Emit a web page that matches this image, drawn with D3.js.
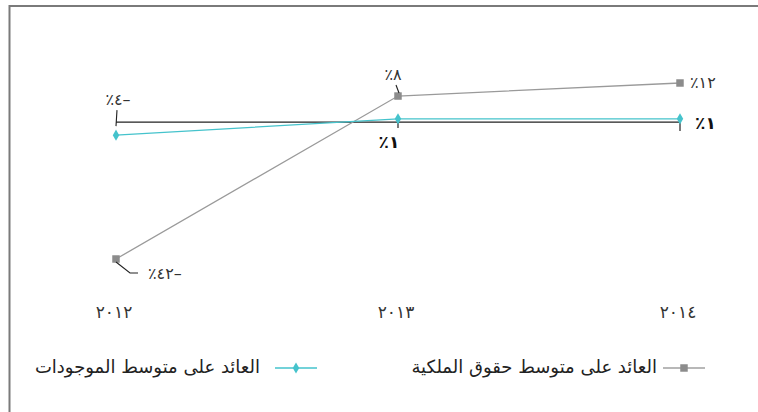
<!DOCTYPE html>
<html>
<head>
<meta charset="utf-8">
<script src="https://cdn.jsdelivr.net/npm/d3@7"></script>
<style>
  body { margin: 0; background: #fff; }
  svg { display: block; font-family: "DejaVu Sans", "Noto Sans", sans-serif; }
</style>
</head>
<body>
<div id="chart"></div>
<script>
// chart data
var years = [2012, 2013, 2014];
var yearLabels = ["٢٠١٢", "٢٠١٣", "٢٠١٤"];
var equityValues = [-42, 8, 12];
var assetsValues = [-4, 1, 1];
var seriesNames = ["العائد على متوسط حقوق الملكية", "العائد على متوسط الموجودات"];

var width = 758, height = 412;
var grey = "#8c8c8c", teal = "#45c3cc";

var svg = d3.select("#chart").append("svg")
    .attr("width", width)
    .attr("height", height);

// frame (top + left edges only)
svg.append("path")
    .attr("d", "M9.5,412 V6 H758")
    .attr("fill", "none")
    .attr("stroke", "#7a7a7a")
    .attr("stroke-width", 2);

var x = d3.scalePoint().domain(years).range([116, 680]);
var y = d3.scaleLinear().domain([-42, 12]).range([259, 83]);

// arabic-indic digits, laid out visually: ٪ digits minus
var digits = "٠١٢٣٤٥٦٧٨٩";
function fmt(v) {
  var s = String(Math.abs(v)).replace(/\d/g, function(c) { return digits[+c]; });
  return "٪" + s + (v < 0 ? "–" : "");
}

// zero line
svg.append("line")
    .attr("x1", x(2012)).attr("x2", x(2014))
    .attr("y1", y(0)).attr("y2", y(0))
    .attr("stroke", "#222").attr("stroke-width", 1.2);

svg.selectAll("line.tick")
    .data(years.slice(1))
  .enter().append("line")
    .attr("class", "tick")
    .attr("x1", function(d) { return x(d); }).attr("x2", function(d) { return x(d); })
    .attr("y1", y(0)).attr("y2", function(d, i) { return y(0) + (i ? 9 : 6); })
    .attr("stroke", "#222").attr("stroke-width", 1.2);

// x labels
svg.selectAll("text.year")
    .data(years)
  .enter().append("text")
    .attr("class", "year")
    .attr("x", function(d) { return x(d) - 2; })
    .attr("y", 318)
    .attr("text-anchor", "middle")
    .attr("font-size", 17)
    .attr("fill", "#333")
    .text(function(d, i) { return yearLabels[i]; });

var line = d3.line()
    .x(function(d, i) { return x(years[i]); })
    .y(function(d) { return y(d); });

// equity series
svg.append("path")
    .datum(equityValues)
    .attr("d", line)
    .attr("fill", "none")
    .attr("stroke", "#9a9a9a")
    .attr("stroke-width", 1.3);

// assets series
svg.append("path")
    .datum(assetsValues)
    .attr("d", line)
    .attr("fill", "none")
    .attr("stroke", teal)
    .attr("stroke-width", 1.3);

var square = d3.symbol().type(d3.symbolSquare).size(56);
var diamond = d3.symbol().type(d3.symbolDiamond).size(36);

svg.selectAll("path.sq")
    .data(equityValues)
  .enter().append("path")
    .attr("class", "sq")
    .attr("d", square)
    .attr("transform", function(d, i) { return "translate(" + x(years[i]) + "," + y(d) + ")"; })
    .attr("fill", grey);

svg.selectAll("path.dm")
    .data(assetsValues)
  .enter().append("path")
    .attr("class", "dm")
    .attr("d", diamond)
    .attr("transform", function(d, i) { return "translate(" + x(years[i]) + "," + y(d) + ")"; })
    .attr("fill", teal);

// label placement: offset of the text and its leader line, relative to the point
var equityPlace = [
  { dx: 32, dy: 20, anchor: "start", lead: [[0, 3], [14, 14], [22, 14]] },
  { dx: -5, dy: -16, anchor: "middle", lead: [[-2, -11], [1, -3]] },
  { dx: 10, dy: 5, anchor: "start", lead: null }
];
var assetsPlace = [
  { dx: 2, dy: -30, anchor: "middle", lead: [[1, -25], [0, -9]] },
  { dx: -9, dy: 29, anchor: "middle", lead: null, bold: true },
  { dx: 15, dy: 10, anchor: "start", lead: null, bold: true }
];

function labels(values, place) {
  values.forEach(function(v, i) {
    var p = place[i], px = x(years[i]), py = y(v);
    if (p.lead) {
      svg.append("path")
          .attr("d", d3.line()(p.lead.map(function(q) { return [px + q[0], py + q[1]]; })))
          .attr("fill", "none")
          .attr("stroke", "#222")
          .attr("stroke-width", 1.1);
    }
    svg.append("text")
        .attr("x", px + p.dx)
        .attr("y", py + p.dy)
        .attr("text-anchor", p.anchor)
        .attr("font-size", p.bold ? 17 : 16)
        .attr("font-weight", p.bold ? "bold" : null)
        .attr("fill", p.bold ? "#111" : "#333")
        .style("direction", "ltr")
        .style("unicode-bidi", "bidi-override")
        .text(fmt(v));
  });
}
labels(equityValues, equityPlace);
labels(assetsValues, assetsPlace);

// legend
var legend = [
  { name: seriesNames[0], x: 663, gap: 6, color: "#a0a0a0", mark: square, fill: grey },
  { name: seriesNames[1], x: 275, gap: 15, color: teal, mark: diamond, fill: teal }
];
var lg = svg.selectAll("g.legend")
    .data(legend)
  .enter().append("g")
    .attr("class", "legend")
    .attr("transform", function(d) { return "translate(" + d.x + ",368)"; });

lg.append("line")
    .attr("x1", 0).attr("x2", 42)
    .attr("stroke", function(d) { return d.color; })
    .attr("stroke-width", 1.5);

lg.append("path")
    .attr("d", function(d) { return d.mark(); })
    .attr("transform", "translate(21,0)")
    .attr("fill", function(d) { return d.fill; });

lg.append("text")
    .attr("x", function(d) { return -d.gap; })
    .attr("y", 5)
    .attr("text-anchor", "end")
    .attr("font-size", 18)
    .attr("fill", "#222")
    .text(function(d) { return d.name; });
</script>
</body>
</html>
